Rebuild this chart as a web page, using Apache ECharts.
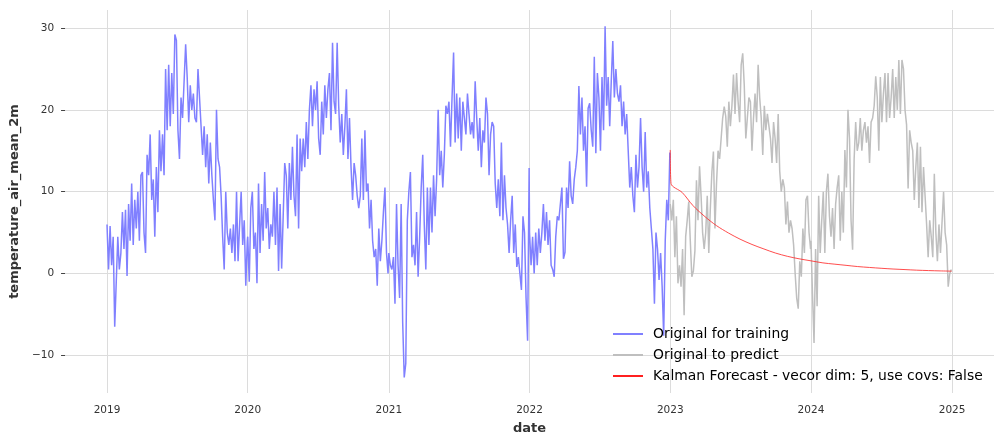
<!DOCTYPE html>
<html>
<head>
<meta charset="utf-8">
<script src="https://cdn.jsdelivr.net/npm/echarts@6/dist/echarts.min.js"></script>
<style>
html, body { margin: 0; padding: 0; background: #fff; }
#main { width: 1003px; height: 447px; }
</style>
</head>
<body>
<div id="main"></div>
<script>
// daily temperature, every 4 days from Jan 1 of each year
const train2019 = [6.0, 0.5, 5.8, 1.0, 4.5, -6.5, -1.0, 4.5, 0.5, 2.5,
  7.5, 3.0, 7.8, -0.3, 8.5, 4.0, 11.0, 3.5, 9.0, 5.5,
  10.0, 4.0, 12.0, 12.4, 5.0, 2.5, 14.5, 12.0, 17.0, 9.0,
  11.5, 4.5, 13.0, 7.5, 17.5, 12.5, 17.0, 12.0, 25.0, 17.5,
  25.5, 18.0, 24.5, 19.5, 29.2, 28.5, 17.5, 14.0, 21.5, 19.0,
  19.0, 28.0, 24.0, 18.5, 23.0, 20.0, 22.0, 19.0, 18.5, 25.0,
  25.0, 18.0, 14.5, 18.0, 13.0, 17.0, 11.0, 16.0, 12.0, 9.0,
  6.5, 20.0, 14.0, 13.0, 9.5, 4.5, 0.5, 10.0, 5.0, 3.5,
  5.5, 2.5, 6.0, 1.5, 10.0, 1.5, 6.0, 10.0, 3.5, 6.5,
  -1.5, 4.0];
const train2020 = [4.5, -1.0, 8.0, 10.0, 3.0, 5.0, -1.2, 11.0, 2.5, 8.5,
  4.0, 12.4, 5.5, 8.0, 3.0, 6.0, 4.5, 10.0, 3.5, 10.5,
  0.3, 8.5, 0.6, 7.0, 13.5, 12.0, 5.5, 13.5, 9.0, 15.5,
  9.5, 7.0, 17.0, 5.5, 16.5, 12.5, 16.5, 13.0, 18.5, 14.0,
  20.0, 23.0, 18.0, 22.5, 20.0, 23.5, 16.5, 14.5, 21.0, 17.0,
  23.0, 19.0, 22.5, 24.5, 17.5, 28.2, 21.0, 19.5, 28.2, 20.5,
  16.0, 19.5, 14.5, 18.0, 22.5, 14.0, 19.0, 13.0, 9.0, 13.5,
  12.0, 9.5, 8.0, 9.5, 16.5, 9.0, 17.5, 10.0, 11.0, 5.5,
  9.0, 4.0, 2.0, 3.0, -1.5, 5.5, 1.5, 4.0, 7.5, 10.5,
  2.5, 0.0];
const train2021 = [2.5, 1.0, 0.5, 2.0, -3.7, 8.5, 1.0, -3.0, 8.5, -6.0,
  -12.7, -11.0, 6.5, 10.0, 12.4, 2.0, 3.5, 1.0, 7.5, -0.4,
  4.5, 10.5, 14.5, 6.0, 0.5, 10.5, 3.5, 10.5, 5.0, 12.0,
  7.0, 11.5, 20.0, 12.0, 15.0, 10.5, 14.5, 20.5, 19.5, 21.0,
  15.5, 21.5, 27.0, 16.0, 22.0, 16.5, 21.5, 15.0, 21.0, 19.0,
  17.0, 22.0, 19.5, 17.0, 18.5, 16.5, 23.5, 19.0, 15.0, 19.0,
  13.0, 17.5, 16.0, 21.5, 19.5, 12.0, 17.0, 18.5, 18.0, 11.0,
  8.0, 11.5, 7.0, 16.0, 6.5, 12.0, 8.0, 6.0, 2.5, 6.5,
  9.5, 2.5, 6.0, 0.8, 2.0, 0.0, -2.0, 7.0, 5.0, -3.0,
  -8.2, 12.9];
const train2022 = [5.0, 1.0, 4.5, 0.0, 5.0, 1.0, 5.5, 2.5, 5.0, 8.5,
  4.0, 7.5, 3.5, 6.5, 1.0, 0.5, -0.4, 4.5, 7.0, 6.5,
  8.5, 10.5, 1.8, 2.6, 10.5, 8.0, 13.7, 9.5, 8.5, 11.5,
  13.0, 15.0, 22.9, 17.0, 21.5, 15.0, 18.0, 10.6, 20.2, 20.8,
  17.5, 15.5, 26.5, 14.7, 24.5, 21.5, 15.0, 24.0, 17.5, 30.2,
  20.5, 24.0, 18.0, 23.5, 28.4, 21.5, 25.0, 22.0, 21.0, 23.0,
  18.0, 21.0, 17.0, 19.5, 15.0, 10.5, 13.0, 9.5, 7.5, 14.5,
  10.5, 13.0, 19.0, 13.0, 10.0, 17.3, 10.5, 12.5, 8.0, 5.5,
  3.0, -3.7, 5.0, 3.0, -0.8, 2.5, -1.6, -7.6, 4.0, 9.0,
  6.5, 14.8];
const test2023 = [8.5, 6.5, 9.0, 2.0, 7.0, -1.2, 1.0, -1.6, 3.0, -5.1,
  4.5, 6.5, 8.8, 4.0, -0.4, 0.3, 2.8, 11.4, 6.5, 13.1,
  9.5, 5.0, 3.0, 5.0, 9.5, 2.5, 8.0, 12.4, 14.9, 5.5,
  11.0, 15.0, 14.0, 16.5, 19.0, 20.4, 19.2, 15.5, 21.0, 18.0,
  20.5, 24.3, 19.5, 24.5, 21.0, 18.5, 25.5, 26.9, 23.0, 16.5,
  19.0, 21.5, 21.0, 15.0, 19.0, 22.0, 18.5, 25.5, 21.5, 19.0,
  14.5, 20.5, 17.5, 19.5, 18.0, 16.5, 13.5, 18.5, 16.5, 13.5,
  19.5, 12.5, 10.0, 11.5, 10.5, 6.0, 8.8, 5.0, 6.5, 5.5,
  3.5, 0.0, -3.0, -4.3, 1.5, -0.4, 5.5, 2.5, 9.0, 9.5,
  5.0, 3.0];
const test2024 = [4.0, -2.5, -8.5, 3.0, -4.0, 9.5, 2.5, 6.5, 10.0, 2.5,
  10.0, 12.2, 7.0, 4.5, 8.0, 3.0, 8.5, 10.5, 12.0, 4.0,
  10.0, 5.0, 15.1, 10.5, 20.0, 16.5, 6.5, 2.9, 14.0, 18.5,
  15.0, 16.0, 19.0, 15.0, 17.5, 18.5, 16.0, 18.0, 13.5, 18.5,
  19.0, 20.5, 24.1, 21.5, 15.0, 24.0, 18.5, 22.0, 24.5, 18.5,
  24.5, 19.0, 21.5, 25.0, 19.0, 24.0, 20.0, 26.1, 19.5, 26.1,
  25.0, 20.0, 18.2, 10.4, 17.5, 16.0, 15.0, 9.0, 13.0, 16.0,
  8.0, 15.5, 7.5, 13.0, 9.5, 6.0, 2.0, 6.5, 4.5, 2.0,
  12.2, 5.0, 1.5, 6.0, 2.5, 2.5, 10.0, 5.0, 3.5, -1.6,
  0.0, 0.5];

// Kalman forecast (smooth curve), read at a few dates
const forecastDates = ['2023-01-01', '2023-01-03', '2023-02-01', '2023-03-01', '2023-04-01',
  '2023-05-01', '2023-06-01', '2023-07-01', '2023-08-01', '2023-09-01', '2023-10-01',
  '2023-11-01', '2023-12-01', '2024-01-01', '2024-02-01', '2024-03-01', '2024-04-01',
  '2024-05-01', '2024-06-01', '2024-07-01', '2024-08-01', '2024-09-01', '2024-10-01',
  '2024-11-01', '2024-12-01', '2024-12-31'];
const forecastValues = [15.1, 11.0, 9.9, 8.3, 6.95,
  5.85, 4.95, 4.2, 3.55, 3.0, 2.5,
  2.1, 1.8, 1.55, 1.3, 1.15, 1.0,
  0.85, 0.74, 0.64, 0.55, 0.48, 0.41,
  0.36, 0.32, 0.29];

const yearTicks = [2019, 2020, 2021, 2022, 2023, 2024, 2025];
const yTicks = [-10, 0, 10, 20, 30];

const DAY = 86400000;
function yearSeries(year, values) {
  const start = Date.UTC(year, 0, 1);
  return values.map((v, i) => [start + i * 4 * DAY, v]);
}
function toUTC(s) {
  const p = s.split('-');
  return Date.UTC(+p[0], +p[1] - 1, +p[2]);
}

const trainData = [].concat(
  yearSeries(2019, train2019), yearSeries(2020, train2020),
  yearSeries(2021, train2021), yearSeries(2022, train2022));
const testData = [].concat(yearSeries(2023, test2023), yearSeries(2024, test2024));
const forecastData = forecastDates.map((d, i) => [toUTC(d), forecastValues[i]]);
const yearStamps = yearTicks.map(y => Date.UTC(y, 0, 1));

const font = 'DejaVu Sans';
const chart = echarts.init(document.getElementById('main'));
const pad = 108.8 * DAY;

chart.setOption({
  animation: false,
  backgroundColor: '#ffffff',
  grid: { left: 64, right: 9, top: 10, bottom: 54 },
  xAxis: {
    type: 'value',
    min: Date.UTC(2019, 0, 1) - pad,
    max: Date.UTC(2025, 0, 1) + pad,
    name: 'date',
    nameLocation: 'middle',
    nameGap: 29,
    nameTextStyle: { fontFamily: font, fontSize: 13, fontWeight: 'bold', color: '#333' },
    axisLine: { show: false },
    axisTick: { show: false, customValues: yearStamps },
    axisLabel: {
      customValues: yearStamps,
      formatter: v => String(new Date(v).getUTCFullYear()),
      fontFamily: font, fontSize: 10.5, color: '#333', margin: 12
    },
    splitLine: { show: true, lineStyle: { color: '#dcdcdc', width: 1 } }
  },
  yAxis: {
    type: 'value',
    min: -14.6,
    max: 32.2,
    name: 'temperature_air_mean_2m',
    nameLocation: 'middle',
    nameRotate: 90,
    nameGap: 37,
    nameTextStyle: { fontFamily: font, fontSize: 13, fontWeight: 'bold', color: '#333' },
    axisLine: { show: false },
    axisTick: { show: true, length: 4, customValues: yTicks, lineStyle: { color: '#444', width: 1 } },
    axisLabel: {
      customValues: yTicks,
      formatter: v => String(v).replace('-', '\u2212'),
      fontFamily: font, fontSize: 10.5, color: '#333', margin: 11
    },
    splitLine: { show: true, lineStyle: { color: '#dcdcdc', width: 1 } }
  },
  legend: {
    orient: 'vertical',
    left: 612,
    top: 327,
    padding: 0,
    itemWidth: 30,
    itemHeight: 14,
    itemGap: 7,
    itemStyle: { opacity: 0 },
    textStyle: { fontFamily: font, fontSize: 13.9, lineHeight: 14, color: '#000', padding: [0, 0, 0, 5] },
    data: ['Original for training', 'Original to predict', 'Kalman Forecast - vecor dim: 5, use covs: False']
  },
  series: [
    {
      name: 'Original for training',
      type: 'line',
      data: trainData,
      symbol: 'none',
      lineStyle: { color: '#8080ff', width: 1.5 },
      itemStyle: { color: '#8080ff' },
      z: 2
    },
    {
      name: 'Original to predict',
      type: 'line',
      data: testData,
      symbol: 'none',
      lineStyle: { color: '#bfbfbf', width: 1.5 },
      itemStyle: { color: '#bfbfbf' },
      z: 3
    },
    {
      name: 'Kalman Forecast - vecor dim: 5, use covs: False',
      type: 'line',
      data: forecastData,
      symbol: 'none',
      smooth: 0.3,
      lineStyle: { color: '#ff2020', width: 0.8 },
      itemStyle: { color: '#ff2020' },
      z: 4
    }
  ]
});
</script>
</body>
</html>
